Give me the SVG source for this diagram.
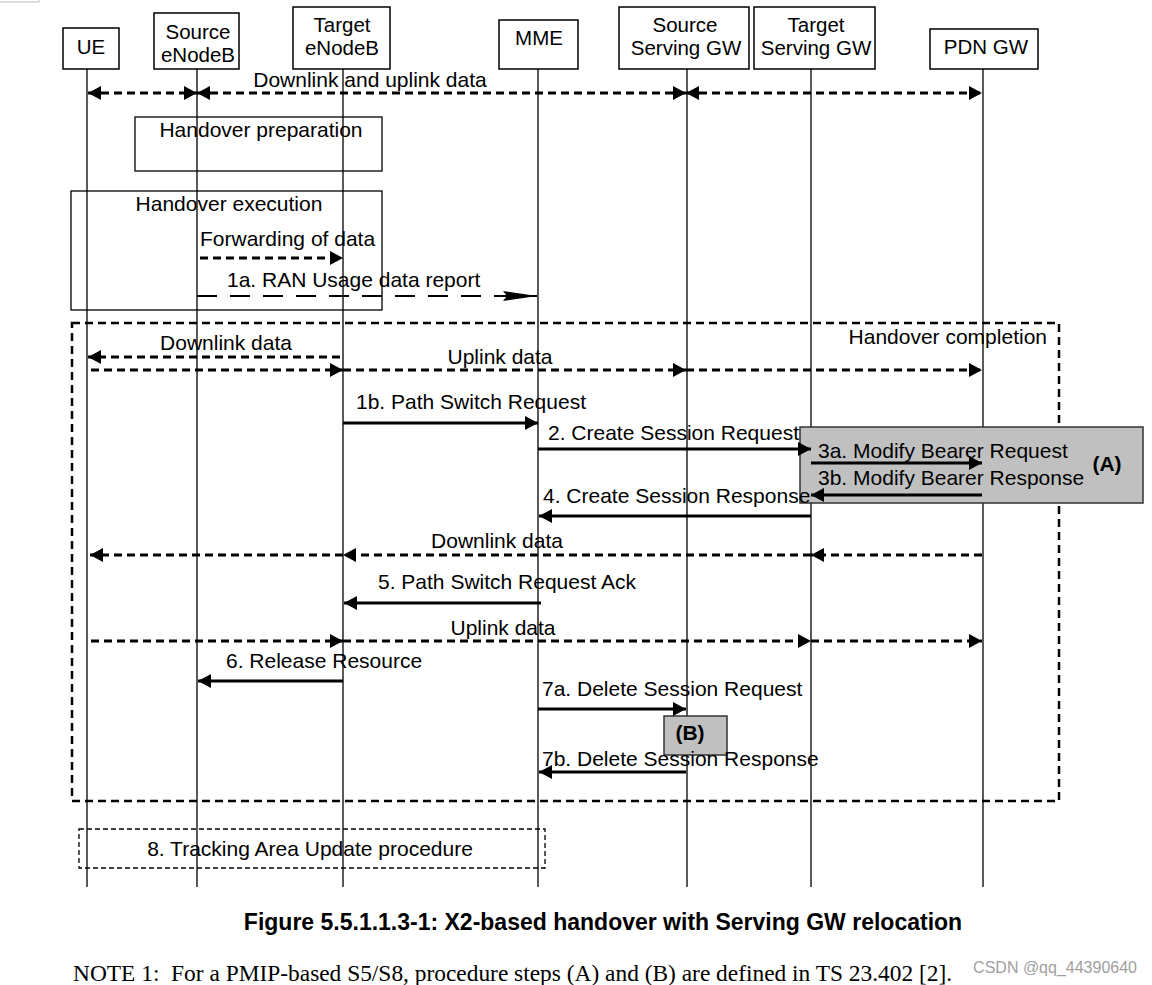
<svg xmlns="http://www.w3.org/2000/svg" width="1152" height="985" viewBox="0 0 1152 985">
<style>
text{font-family:"Liberation Sans",Arial,sans-serif;font-size:21px;fill:#000}
.hdr{font-size:20.5px;text-anchor:middle}
.mid{text-anchor:middle}
.box{fill:#fff;stroke:#000;stroke-width:1.5}
.life{stroke:#000;stroke-width:1.3}
.sol{stroke:#000;stroke-width:3;fill:none}
.dsh{stroke:#000;stroke-width:3;stroke-dasharray:8 5;fill:none}
.frame{fill:none;stroke:#000;stroke-width:1.3}
.gray{fill:#c0c0c0;stroke:#333;stroke-width:1.5}
.bold{font-weight:bold}
</style>
<defs>
<marker id="ah" markerUnits="userSpaceOnUse" markerWidth="14" markerHeight="14" refX="13" refY="7" orient="auto-start-reverse"><path d="M0,0 L13,7 L0,14 z" fill="#000"/></marker>
<marker id="ahl" markerUnits="userSpaceOnUse" markerWidth="34" markerHeight="12" refX="34" refY="6" orient="auto"><path d="M0,1 L34,6 L0,11 L4,6 z" fill="#000"/></marker>
</defs>
<rect x="-1" y="-1" width="40" height="3" fill="none" stroke="#bbb" stroke-width="1"/>
<g id="lifelines">
<line class="life" x1="87" y1="69" x2="87" y2="887"/>
<line class="life" x1="197" y1="69" x2="197" y2="887"/>
<line class="life" x1="343" y1="69" x2="343" y2="887"/>
<line class="life" x1="538" y1="69" x2="538" y2="887"/>
<line class="life" x1="687" y1="69" x2="687" y2="887"/>
<line class="life" x1="811" y1="69" x2="811" y2="887"/>
<line class="life" x1="983" y1="69" x2="983" y2="887"/>
</g>
<g id="node-ue"><rect class="box" x="63" y="28" width="56" height="41"/><text class="hdr" x="91" y="54">UE</text></g>
<g id="node-source-enb"><rect class="box" x="154" y="13" width="85" height="56"/><text class="hdr" x="198" y="39">Source</text><text class="hdr" x="198" y="62">eNodeB</text></g>
<g id="node-target-enb"><rect class="box" x="293" y="7" width="97" height="62"/><text class="hdr" x="342" y="32">Target</text><text class="hdr" x="342" y="55">eNodeB</text></g>
<g id="node-mme"><rect class="box" x="499" y="20" width="79" height="49"/><text class="hdr" x="539" y="45">MME</text></g>
<g id="node-source-sgw"><rect class="box" x="619" y="7" width="130" height="62"/><text class="hdr" x="685" y="32">Source</text><text class="hdr" x="686" y="55">Serving GW</text></g>
<g id="node-target-sgw"><rect class="box" x="754" y="7" width="121" height="62"/><text class="hdr" x="816" y="32">Target</text><text class="hdr" x="816" y="55">Serving GW</text></g>
<g id="node-pdn-gw"><rect class="box" x="930" y="29" width="108" height="40"/><text class="hdr" x="986" y="54">PDN GW</text></g>
<g id="frames">
<rect class="frame" x="135" y="117" width="247" height="54"/>
<text class="mid" x="261" y="137">Handover preparation</text>
<rect class="frame" x="71" y="191" width="311" height="119"/>
<text class="mid" x="229" y="211">Handover execution</text>
<rect x="72" y="323" width="987" height="478" fill="none" stroke="#000" stroke-width="2.5" stroke-dasharray="8 5"/>
<text x="1047" y="344" text-anchor="end">Handover completion</text>
<rect class="gray" x="800" y="427" width="343" height="76"/>
<text class="bold" x="1107" y="471" text-anchor="middle">(A)</text>
<rect class="gray" x="664" y="716" width="63" height="39"/>
<text class="bold" x="690" y="740" text-anchor="middle">(B)</text>
<rect x="79" y="829" width="466" height="39" fill="none" stroke="#000" stroke-width="1.3" stroke-dasharray="5 3"/>
<text class="mid" x="310" y="856">8. Tracking Area Update procedure</text>
</g>
<g id="connectors">
<line class="dsh" x1="88" y1="93" x2="197" y2="93" marker-start="url(#ah)" marker-end="url(#ah)"/>
<line class="dsh" x1="197" y1="93" x2="686" y2="93" marker-start="url(#ah)" marker-end="url(#ah)"/>
<line class="dsh" x1="686" y1="93" x2="982" y2="93" marker-start="url(#ah)" marker-end="url(#ah)"/>
<line class="dsh" x1="200" y1="258" x2="343" y2="258" marker-end="url(#ah)"/>
<line x1="197" y1="296" x2="537" y2="296" stroke="#000" stroke-width="2" stroke-dasharray="20 13" marker-end="url(#ahl)"/>
<line class="dsh" x1="340" y1="357" x2="88" y2="357" marker-end="url(#ah)"/>
<line class="dsh" x1="91" y1="370" x2="343" y2="370" marker-end="url(#ah)"/>
<line class="dsh" x1="343" y1="370" x2="686" y2="370" marker-end="url(#ah)"/>
<line class="dsh" x1="686" y1="370" x2="982" y2="370" marker-end="url(#ah)"/>
<line class="sol" x1="343" y1="423" x2="538" y2="423" marker-end="url(#ah)"/>
<line class="sol" x1="538" y1="449" x2="811" y2="449" marker-end="url(#ah)"/>
<line class="sol" x1="811" y1="463" x2="982" y2="463" marker-end="url(#ah)"/>
<line class="sol" x1="982" y1="495" x2="811" y2="495" marker-end="url(#ah)"/>
<line class="sol" x1="811" y1="516" x2="539" y2="516" marker-end="url(#ah)"/>
<line class="dsh" x1="982" y1="555" x2="811" y2="555" marker-end="url(#ah)"/>
<line class="dsh" x1="811" y1="555" x2="343" y2="555" marker-end="url(#ah)"/>
<line class="dsh" x1="343" y1="555" x2="90" y2="555" marker-end="url(#ah)"/>
<line class="sol" x1="541" y1="603" x2="344" y2="603" marker-end="url(#ah)"/>
<line class="dsh" x1="91" y1="641" x2="343" y2="641" marker-end="url(#ah)"/>
<line class="dsh" x1="343" y1="641" x2="811" y2="641" marker-end="url(#ah)"/>
<line class="dsh" x1="811" y1="641" x2="982" y2="641" marker-end="url(#ah)"/>
<line class="sol" x1="343" y1="681" x2="198" y2="681" marker-end="url(#ah)"/>
<line class="sol" x1="538" y1="709" x2="686" y2="709" marker-end="url(#ah)"/>
<line class="sol" x1="686" y1="772" x2="539" y2="772" marker-end="url(#ah)"/>
</g>
<g id="labels">
<text class="mid" x="370" y="87">Downlink and uplink data</text>
<text x="200" y="246">Forwarding of data</text>
<text x="227" y="287">1a. RAN Usage data report</text>
<text class="mid" x="226" y="350">Downlink data</text>
<text class="mid" x="500" y="364">Uplink data</text>
<text x="356" y="409">1b. Path Switch Request</text>
<text x="548" y="440">2. Create Session Request</text>
<text x="818" y="458">3a. Modify Bearer Request</text>
<text x="818" y="485">3b. Modify Bearer Response</text>
<text x="543" y="503">4. Create Session Response</text>
<text class="mid" x="497" y="548">Downlink data</text>
<text x="378" y="589">5. Path Switch Request Ack</text>
<text class="mid" x="503" y="635">Uplink data</text>
<text x="226" y="668">6. Release Resource</text>
<text x="542" y="696">7a. Delete Session Request</text>
<text x="542" y="766">7b. Delete Session Response</text>
</g>
<g id="caption">
<text class="bold mid" x="603" y="930" style="font-size:23px">Figure 5.5.1.1.3-1: X2-based handover with Serving GW relocation</text>
<text x="73" y="981" xml:space="preserve" style="font-family:'Liberation Serif','Times New Roman',serif;font-size:23.4px">NOTE 1:  For a PMIP-based S5/S8, procedure steps (A) and (B) are defined in TS 23.402 [2].</text>
<text x="1137" y="973" text-anchor="end" style="font-size:16px;fill:#a0a0a0">CSDN @qq_44390640</text>
</g>
</svg>
